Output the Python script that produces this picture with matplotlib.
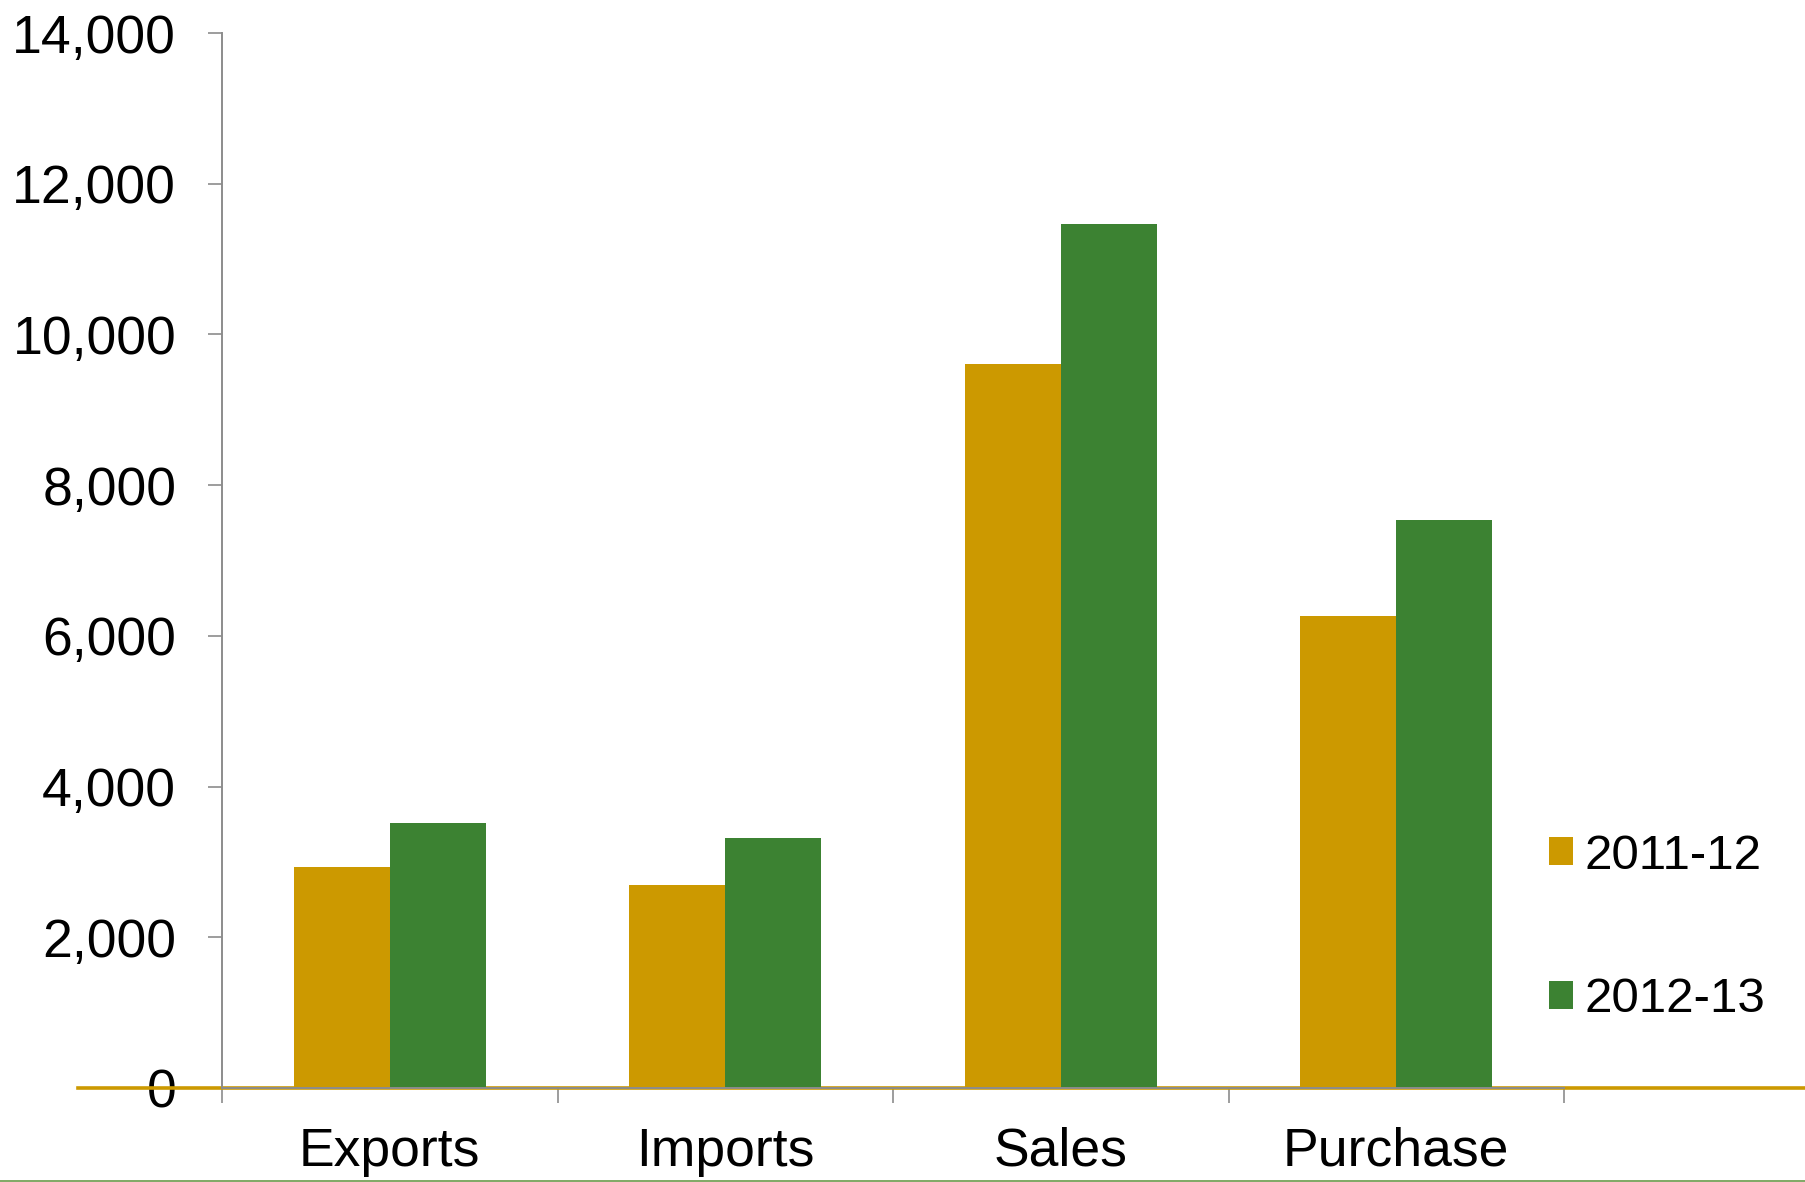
import matplotlib

matplotlib.use("Agg")
import matplotlib.pyplot as plt
import numpy as np
from matplotlib.lines import Line2D
from matplotlib.ticker import FuncFormatter

plt.rcParams["font.family"] = ["Liberation Sans", "DejaVu Sans"]

CATEGORIES = ["Exports", "Imports", "Sales", "Purchase"]
SERIES = ["2011-12", "2012-13"]
VALUES_2011 = [2930, 2690, 9605, 6260]
VALUES_2012 = [3515, 3315, 11460, 7535]
Y_TICKS = [0, 2000, 4000, 6000, 8000, 10000, 12000, 14000]

GOLD = "#CC9900"
GREEN = "#3C8232"
AXIS_GRAY = "#8C8C8C"
FONT_SIZE = 38.5
LEGEND_SIZE = 35.5

fig = plt.figure(figsize=(18.06, 11.82), dpi=100, facecolor="white")
ax = fig.add_axes([222 / 1806, 1 - 1088 / 1182, (1564 - 222) / 1806, (1088 - 33) / 1182])

x = np.arange(len(CATEGORIES))
width = 0.286
bars_a = ax.bar(x - width / 2, VALUES_2011, width, color=GOLD, zorder=3, label=SERIES[0])
bars_b = ax.bar(x + width / 2, VALUES_2012, width, color=GREEN, zorder=3, label=SERIES[1])

# gold baseline running across the whole figure width
ax.axhline(0, xmin=(78 - 222) / 1342, xmax=(1806 - 222) / 1342,
           color=GOLD, linewidth=2.6, clip_on=False, zorder=2)

ax.set_xlim(-0.5, len(CATEGORIES) - 0.5)
ax.set_ylim(0, 14000)
ax.set_yticks(Y_TICKS)
ax.yaxis.set_major_formatter(FuncFormatter(lambda v, _: f"{int(v):,}"))

# boundary ticks (no labels) + centred category labels
ax.set_xticks(np.arange(len(CATEGORIES) + 1) - 0.5)
ax.set_xticklabels([])
ax.set_xticks(x, minor=True)
ax.set_xticklabels(CATEGORIES, minor=True)
ax.tick_params(axis="x", which="major", length=10.5, width=1.2, color=AXIS_GRAY, direction="out")
ax.tick_params(axis="x", which="minor", length=0, pad=28, labelsize=FONT_SIZE)
ax.tick_params(axis="y", length=10, width=1.2, color=AXIS_GRAY, pad=23, labelsize=FONT_SIZE)

for side in ("top", "right"):
    ax.spines[side].set_visible(False)
for side in ("left", "bottom"):
    ax.spines[side].set_color(AXIS_GRAY)
    ax.spines[side].set_linewidth(1.4)
    ax.spines[side].set_zorder(4)

ax.legend(
    handles=[bars_a, bars_b],
    labels=SERIES,
    loc="center left",
    bbox_to_anchor=(1549 / 1806, 1 - 928 / 1182),
    bbox_transform=fig.transFigure,
    frameon=False,
    fontsize=LEGEND_SIZE,
    handlelength=0.49,
    handleheight=0.49,
    handletextpad=0.24,
    labelspacing=2.0,
    borderpad=0,
    borderaxespad=0,
)

# thin green rule along the bottom edge
fig.add_artist(Line2D([0, 1], [0.6 / 1182, 0.6 / 1182], color="#6A9A4A",
                      linewidth=1.2, transform=fig.transFigure))

fig.savefig("out.png", dpi=100, facecolor="white")
